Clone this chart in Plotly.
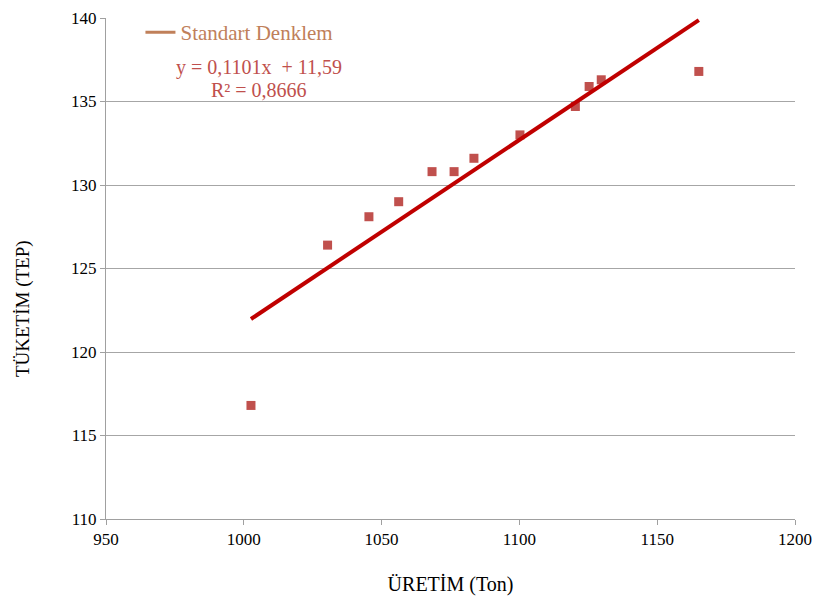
import plotly.graph_objects as go

uretim = [1002.6, 1030.4, 1045.4, 1056.2, 1068.3, 1076.3, 1083.5, 1100.2, 1120.3, 1125.3, 1129.7, 1165.1]
tuketim = [116.8, 126.4, 128.1, 129.0, 130.8, 130.8, 131.6, 133.0, 134.7, 135.9, 136.3, 136.8]
trend_x = [1002.6, 1165.1]
slope = 0.1101
intercept = 11.59
trend_y = [slope * v + intercept for v in trend_x]

x_ticks = [950, 1000, 1050, 1100, 1150, 1200]
y_ticks = [110, 115, 120, 125, 130, 135, 140]

font_family = "Times New Roman, Liberation Serif, serif"

fig = go.Figure()
fig.add_trace(go.Scatter(x=uretim, y=tuketim, mode="markers",
                         marker=dict(symbol="square", size=9, color="#c0504d"),
                         showlegend=False))
fig.add_trace(go.Scatter(x=trend_x, y=trend_y, mode="lines",
                         line=dict(color="#c00000", width=4),
                         showlegend=False))
fig.add_trace(go.Scatter(x=[None], y=[None], mode="lines",
                         line=dict(color="#c0805a", width=3),
                         name="Standart Denklem", showlegend=True))

fig.add_annotation(x=0.222, y=0.901, xref="paper", yref="paper",
                   xanchor="center", yanchor="middle",
                   text="y = 0,1101x  + 11,59", showarrow=False,
                   font=dict(family=font_family, size=20, color="#c0504d"))
fig.add_annotation(x=0.222, y=0.857, xref="paper", yref="paper",
                   xanchor="center", yanchor="middle",
                   text="R² = 0,8666", showarrow=False,
                   font=dict(family=font_family, size=20, color="#c0504d"))
# y-axis title (placed as in the reference, slightly below the plot centre)
fig.add_annotation(x=-0.1205, y=0.421, xref="paper", yref="paper",
                   xanchor="center", yanchor="middle", textangle=-90,
                   text="TÜKETİM (TEP)", showarrow=False,
                   font=dict(family=font_family, size=19, color="#000000"))

fig.update_layout(
    width=817, height=601,
    margin=dict(l=106, r=22, t=15, b=82),
    paper_bgcolor="white", plot_bgcolor="white",
    font=dict(family=font_family, size=17, color="#000000"),
    legend=dict(x=0.05, y=1.012, xanchor="left", yanchor="top",
                bgcolor="rgba(0,0,0,0)",
                font=dict(family=font_family, size=21, color="#c0805a")),
    xaxis=dict(range=[950, 1200], tickvals=x_ticks, showgrid=False,
               automargin=False,
               showline=True, linecolor="#a0a0a0", linewidth=1,
               ticks="outside", ticklen=5, tickcolor="#a0a0a0",
               zeroline=False,
               title=dict(text="ÜRETİM (Ton)", standoff=28,
                          font=dict(family=font_family, size=20))),
    yaxis=dict(range=[110, 140], tickvals=y_ticks, showgrid=True,
               automargin=False,
               gridcolor="#a6a6a6", gridwidth=1,
               showline=True, linecolor="#a0a0a0", linewidth=1,
               ticks="outside", ticklen=5, tickcolor="#a0a0a0",
               zeroline=False),
)

fig.write_html("out.html")
